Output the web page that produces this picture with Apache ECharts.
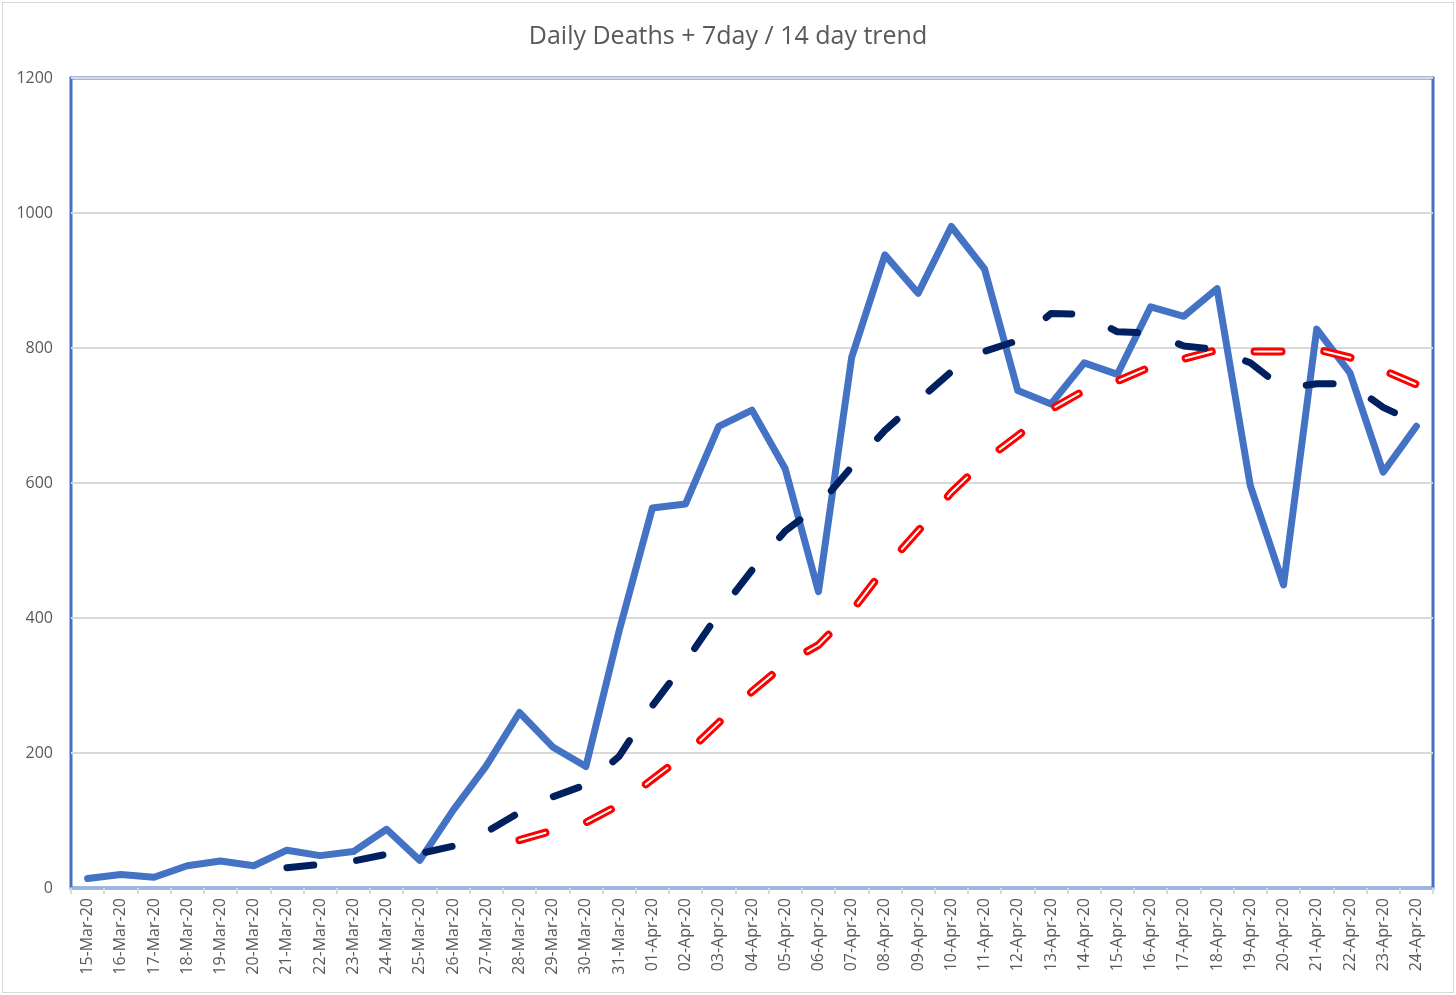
<!DOCTYPE html>
<html>
<head>
<meta charset="utf-8">
<script src="https://cdn.jsdelivr.net/npm/echarts@6/dist/echarts.min.js"></script>
<style>
  html, body { margin: 0; padding: 0; background: #fff; }
  #frame { position: absolute; left: 2px; top: 2px; width: 1450px; height: 989px; border: 1px solid #d9d9d9; }
  #chart { position: absolute; left: 0; top: 0; width: 1456px; height: 995px; }
</style>
</head>
<body>
<div id="frame"></div>
<div id="chart"></div>
<script>
const categories = [
  '15-Mar-20','16-Mar-20','17-Mar-20','18-Mar-20','19-Mar-20','20-Mar-20','21-Mar-20','22-Mar-20','23-Mar-20','24-Mar-20',
  '25-Mar-20','26-Mar-20','27-Mar-20','28-Mar-20','29-Mar-20','30-Mar-20','31-Mar-20','01-Apr-20','02-Apr-20','03-Apr-20',
  '04-Apr-20','05-Apr-20','06-Apr-20','07-Apr-20','08-Apr-20','09-Apr-20','10-Apr-20','11-Apr-20','12-Apr-20','13-Apr-20',
  '14-Apr-20','15-Apr-20','16-Apr-20','17-Apr-20','18-Apr-20','19-Apr-20','20-Apr-20','21-Apr-20','22-Apr-20','23-Apr-20',
  '24-Apr-20'
];
const dailyDeaths = [
  14, 20, 16, 33, 40, 33, 56, 48, 54, 87,
  41, 115, 181, 260, 209, 180, 381, 563, 569, 684,
  708, 621, 439, 786, 938, 881, 980, 917, 737, 717,
  778, 761, 861, 847, 888, 596, 449, 828, 763, 616,
  684
];
const trend7 = [
  null, null, null, null, null, null, 30, 35, 40, 50,
  51, 62, 83, 112, 135, 153, 195, 270, 335, 407,
  471, 529, 566, 624, 678, 722, 765, 795, 811, 851,
  850, 824, 822, 803, 798, 778, 740, 747, 747, 712,
  689
];
const trend14 = [
  null, null, null, null, null, null, null, null, null, null,
  null, null, null, 71, 85, 97, 123, 161, 198, 245,
  291, 332, 360, 410, 474, 529, 586, 633, 670, 709,
  737, 751, 772, 784, 797, 795, 795, 798, 786, 767,
  746
];
const yTicks = { min: 0, max: 1200, interval: 200 };

const chart = echarts.init(document.getElementById('chart'), null, { renderer: 'canvas' });
const font = '"Open Sans", "Liberation Sans", sans-serif';
const dash = [27, 43];
chart.setOption({
  animation: false,
  backgroundColor: 'transparent',
  title: {
    text: 'Daily Deaths + 7day / 14 day trend',
    left: 'center',
    top: 19,
    textStyle: { fontFamily: font, fontSize: 25, fontWeight: 'normal', color: '#595959' }
  },
  grid: {
    left: 71, right: 23, top: 78, bottom: 107,
    show: true, borderColor: '#4472C4', borderWidth: 3, backgroundColor: 'transparent'
  },
  xAxis: {
    type: 'category',
    data: categories,
    boundaryGap: true,
    axisLine: { show: true, lineStyle: { color: '#9DB3DF', width: 2 } },
    axisTick: { show: true, alignWithLabel: false, length: 6, lineStyle: { color: '#d9d9d9', width: 2 } },
    axisLabel: { interval: 0, rotate: 90, margin: 10, fontFamily: font, fontSize: 16, color: '#595959' },
    splitLine: { show: false }
  },
  yAxis: {
    type: 'value',
    min: yTicks.min, max: yTicks.max, interval: yTicks.interval,
    axisLine: { show: false },
    axisTick: { show: false },
    axisLabel: { margin: 18, fontFamily: font, fontSize: 16, color: '#595959', formatter: v => String(v) },
    splitLine: { show: true, lineStyle: { color: '#d9d9d9', width: 2 } }
  },
  series: [
    {
      name: 'Daily Deaths', type: 'line', data: dailyDeaths, symbol: 'none', z: 3,
      lineStyle: { color: '#4472C4', width: 7, cap: 'round', join: 'round' }
    },
    {
      name: '14 day trend', type: 'line', data: trend14, symbol: 'none', z: 4,
      lineStyle: { color: '#FF0000', width: 8, type: dash, cap: 'round', join: 'round' }
    },
    {
      name: '14 day trend inner', type: 'line', data: trend14, symbol: 'none', z: 5,
      lineStyle: { color: '#FFFFFF', width: 2, type: dash, cap: 'round', join: 'round' }
    },
    {
      name: '7 day trend', type: 'line', data: trend7, symbol: 'none', z: 6,
      lineStyle: { color: '#002060', width: 7, type: dash, cap: 'round', join: 'round' }
    }
  ]
});
</script>
</body>
</html>
